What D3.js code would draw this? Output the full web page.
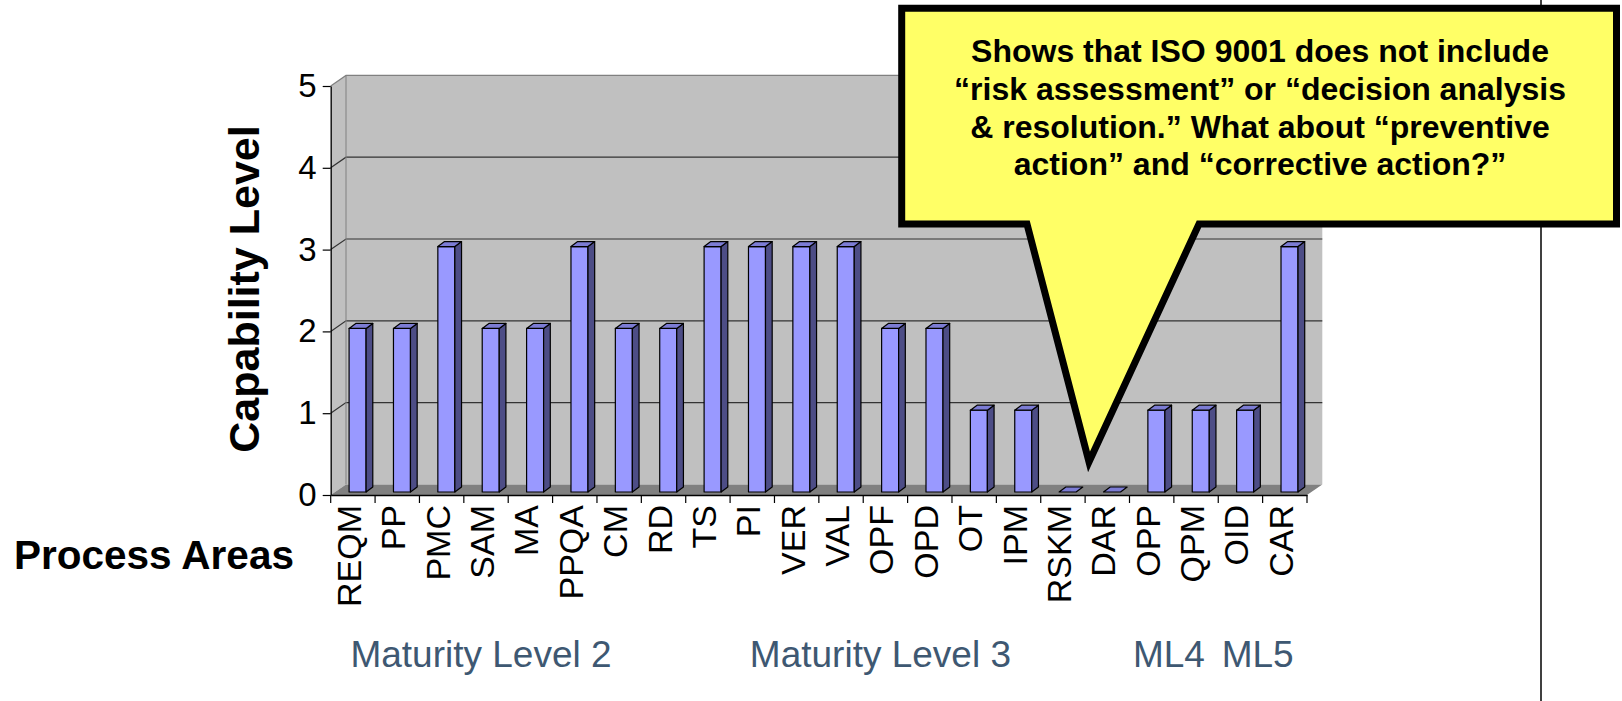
<!DOCTYPE html>
<html><head><meta charset="utf-8">
<script src="https://cdn.jsdelivr.net/npm/d3@7"></script>
<style>
html,body{margin:0;padding:0;background:#fff;}
svg{display:block;font-family:"Liberation Sans",Arial,Helvetica,sans-serif;}
</style>
</head><body>
<svg id="c" width="1622" height="701"></svg>
<script>
// ---------- data ----------
const categories = ["REQM","PP","PMC","SAM","MA","PPQA","CM","RD","TS","PI","VER","VAL","OPF","OPD","OT","IPM","RSKM","DAR","OPP","QPM","OID","CAR"];
const capabilityLevels = [2,2,3,2,2,3,2,2,3,3,3,3,2,2,1,1,0,0,1,1,1,3];
const yTicks = [0,1,2,3,4,5];
const groupLabels = ["Maturity Level 2","Maturity Level 3","ML4","ML5"];
const groupFirst = ["REQM","RD","OPP","OID"];
const groupLast = ["CM","DAR","QPM","CAR"];
const yAxisTitle = "Capability Level";
const xAxisTitle = "Process Areas";
const calloutLines = [
  "Shows that ISO 9001 does not include",
  "\u201Crisk assessment\u201D or \u201Cdecision analysis",
  "& resolution.\u201D What about \u201Cpreventive",
  "action\u201D and \u201Ccorrective action?\u201D"
];

// ---------- layout / style ----------
const svg = d3.select("#c");
const X0 = 330.7, X1 = 1307, Y0 = 495, YT = 86;
const DX = 15.3, DY = -10.6;           // depth of the 3-D box
const BDX = 6.7, BDY = -5;             // depth of each bar
const BAR_W = 17, BAR_SHIFT = 4.7, BAR_LIFT = 3;
const font = '"Liberation Sans",Arial,Helvetica,sans-serif';

const x = d3.scaleBand().domain(categories).range([X0, X1]).padding(0);
const y = d3.scaleLinear().domain([0, 5]).range([Y0, YT]);
const bw = x.bandwidth();

// slide border line (behind callout)
svg.append("line").attr("x1",1541).attr("x2",1541).attr("y1",0).attr("y2",701)
  .attr("stroke","#000").attr("stroke-width",1.5);

// walls
const yMax = d3.max(yTicks);
svg.append("polygon")
  .attr("points", [[X0,y(0)],[X0+DX,y(0)+DY],[X0+DX,y(yMax)+DY],[X0,y(yMax)]].join(" "))
  .attr("fill","#c0c0c0");
svg.append("rect").attr("x",X0+DX).attr("y",y(yMax)+DY)
  .attr("width",X1-X0).attr("height",y(0)-y(yMax)).attr("fill","#c0c0c0");
svg.append("polygon")
  .attr("points", [[X0,y(0)],[X1,y(0)],[X1+DX,y(0)+DY],[X0+DX,y(0)+DY]].join(" "))
  .attr("fill","#808080");

// gridlines
svg.append("g").selectAll("path").data(yTicks.filter(v=>v>0)).join("path")
  .attr("d", v => `M${X0},${y(v)}L${X0+DX},${y(v)+DY}H${X1+DX}`)
  .attr("fill","none")
  .attr("stroke", v => v===yMax ? "#808080" : "#333")
  .attr("stroke-width",1.2);
svg.append("line").attr("x1",X0+DX).attr("x2",X0+DX)
  .attr("y1",y(yMax)+DY).attr("y2",y(0)+DY).attr("stroke","#808080").attr("stroke-width",1);

// bars
const data = categories.map((c,i)=>({c, v: capabilityLevels[i]}));
const bars = svg.append("g").attr("stroke","#000").attr("stroke-width",1.2).attr("stroke-linejoin","round");
data.forEach(d => {
  const cx = x(d.c) + bw/2 + BAR_SHIFT;
  const L = cx - BAR_W/2, R = cx + BAR_W/2;
  const bot = y(0) - BAR_LIFT, top = y(d.v) - BAR_LIFT;
  if (d.v > 0) {
    bars.append("rect").attr("x",L).attr("y",top).attr("width",R-L).attr("height",bot-top)
      .attr("fill","#9999ff");
    bars.append("polygon")
      .attr("points",[[R,top],[R+BDX,top+BDY],[R+BDX,bot+BDY],[R,bot]].join(" "))
      .attr("fill","#4d4d86");
  }
  bars.append("polygon")
    .attr("points",[[L,top],[L+BDX,top+BDY],[R+BDX,top+BDY],[R,top]].join(" "))
    .attr("fill","#7c7cd4");
});

// y axis
const yAxis = svg.append("g").attr("transform",`translate(${X0},0)`)
  .call(d3.axisLeft(y).tickValues(yTicks).tickSize(8).tickSizeOuter(0).tickPadding(6).tickFormat(d3.format("d")));
yAxis.select(".domain").attr("stroke","#000").attr("stroke-width",1.3);
yAxis.selectAll(".tick line").attr("stroke","#000").attr("stroke-width",1.2);
yAxis.selectAll(".tick text").attr("fill","#000").style("font-family",font).style("font-size","33px");

// x axis
const xAxis = svg.append("g").attr("transform",`translate(0,${Y0})`)
  .call(d3.axisBottom(x).tickSize(0).tickSizeOuter(0));
xAxis.select(".domain").attr("stroke","#000").attr("stroke-width",1.3);
xAxis.selectAll(".tick text")
  .attr("x",0).attr("y",0).attr("dy",0)
  .attr("transform","translate(8,10) rotate(-90)")
  .style("text-anchor","end").attr("fill","#000")
  .style("font-family",font).style("font-size","34px");
svg.append("g").selectAll("line").data(categories.map(c=>x(c)).concat([X1])).join("line")
  .attr("x1",d=>d).attr("x2",d=>d).attr("y1",Y0).attr("y2",Y0+8)
  .attr("stroke","#000").attr("stroke-width",1.2);

// titles
svg.append("text").text(yAxisTitle)
  .attr("transform","translate(259,289) rotate(-90)")
  .attr("text-anchor","middle").attr("font-weight","bold").attr("font-size",43).attr("fill","#000");
svg.append("text").text(xAxisTitle).attr("x",14).attr("y",569)
  .attr("font-weight","bold").attr("font-size",40.5).attr("fill","#000");

// maturity level groups
svg.append("g").selectAll("text").data(groupLabels).join("text")
  .text(d=>d)
  .attr("x",(d,i)=> (x(groupFirst[i]) + x(groupLast[i]) + bw)/2 - 5)
  .attr("y",667).attr("text-anchor","middle")
  .attr("font-size",37).attr("fill","#3e5872");

// callout
const TIP = [1089, 462];
const calloutPath = `M901.7,8.3H1616.5V224H1199L${TIP[0]},${TIP[1]}L1027,224H901.7Z`;
svg.append("path").attr("d",calloutPath).attr("fill","#ffff66")
  .attr("stroke","#000").attr("stroke-width",7).attr("stroke-linejoin","miter");
svg.append("g").selectAll("text").data(calloutLines).join("text")
  .text(d=>d).attr("x",1260).attr("y",(d,i)=>62 + i*37.8)
  .attr("text-anchor","middle").attr("font-weight","bold").attr("font-size",32).attr("fill","#000");
</script>
</body></html>
